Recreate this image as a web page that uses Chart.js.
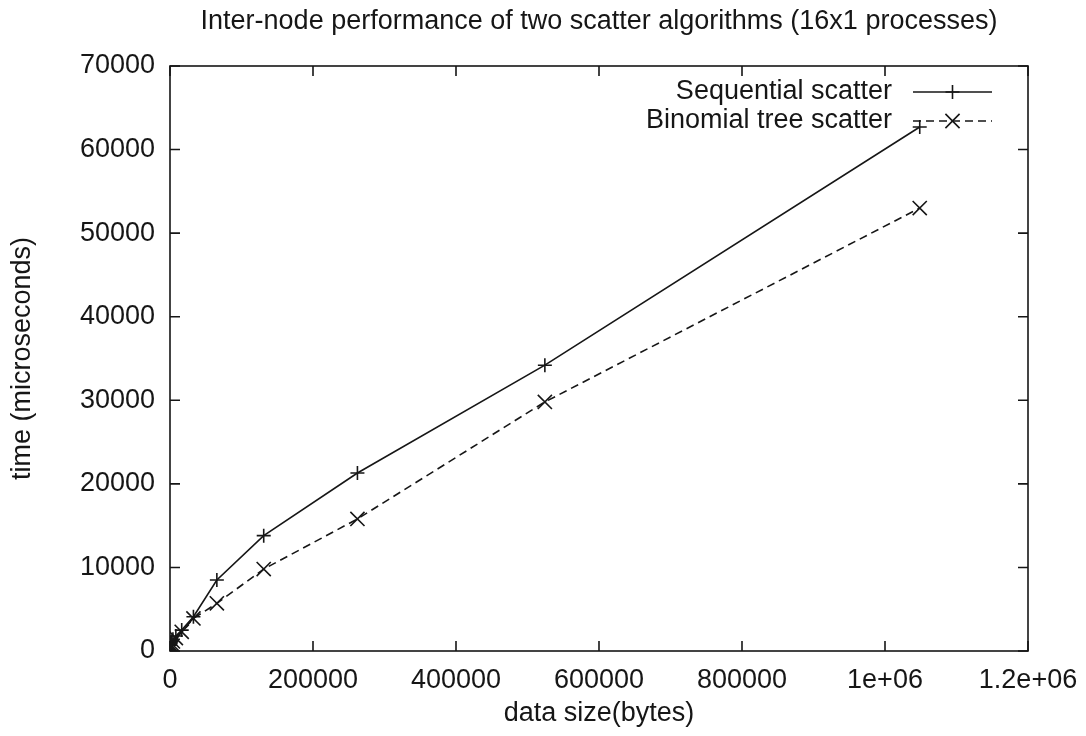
<!DOCTYPE html>
<html>
<head>
<meta charset="utf-8">
<script src="https://cdn.jsdelivr.net/npm/chart.js@4/dist/chart.umd.min.js"></script>
<style>
  html, body { margin: 0; padding: 0; background: #fff; }
  #wrap { width: 1086px; height: 736px; }
</style>
</head>
<body>
<div id="wrap"><canvas id="perfChart" width="1086" height="736"></canvas></div>
<script>
// data (bytes vs microseconds)
const dataSizes = [1, 2, 4, 8, 16, 32, 64, 128, 256, 512, 1024, 2048, 4096, 8192,
    16384, 32768, 65536, 131072, 262144, 524288, 1048576];
const sequentialTimes = [700, 690, 700, 710, 720, 740, 760, 800, 850, 900, 980, 1150, 1400, 1800,
    2500, 4100, 8500, 13800, 21300, 34200, 62700];
const binomialTimes = [350, 340, 350, 360, 370, 390, 420, 460, 520, 600, 720, 900, 1150, 1550,
    2300, 3900, 5700, 9800, 15800, 29800, 53000];
const xTicks = [0, 200000, 400000, 600000, 800000, 1000000, 1200000];
const yTicks = [0, 10000, 20000, 30000, 40000, 50000, 60000, 70000];
const seriesNames = ['Sequential scatter', 'Binomial tree scatter'];
const chartTitle = 'Inter-node performance of two scatter algorithms (16x1 processes)';

const ink = '#161616';
const fontFamily = '"Liberation Sans", Arial, Helvetica, sans-serif';
const fontSize = 27;

const toPoints = (xs, ys) => xs.map((x, i) => ({x: x, y: ys[i]}));

const xLabel = (v) => {
    if (v >= 1000000) {
        let s = (v / 1000000).toString();
        return `${s}e+06`;
    }
    return v.toString();
};

// gnuplot style frame with inward ticks on all four sides, title centred on the plot
const framePlugin = {
    id: 'frame',
    afterDraw(chart) {
        const {ctx, chartArea: a, scales} = chart;
        const len = 10;
        ctx.save();
        ctx.strokeStyle = ink;
        ctx.lineWidth = 1.6;
        ctx.strokeRect(a.left, a.top, a.right - a.left, a.bottom - a.top);
        ctx.beginPath();
        xTicks.forEach(v => {
            const px = scales.x.getPixelForValue(v);
            ctx.moveTo(px, a.bottom); ctx.lineTo(px, a.bottom - len);
            ctx.moveTo(px, a.top); ctx.lineTo(px, a.top + len);
        });
        yTicks.forEach(v => {
            const py = scales.y.getPixelForValue(v);
            ctx.moveTo(a.left, py); ctx.lineTo(a.left + len, py);
            ctx.moveTo(a.right, py); ctx.lineTo(a.right - len, py);
        });
        ctx.stroke();

        ctx.font = `${fontSize}px ${fontFamily}`;
        ctx.fillStyle = ink;
        ctx.textAlign = 'center';
        ctx.textBaseline = 'middle';
        ctx.fillText(chartTitle, (a.left + a.right) / 2, 22);
        ctx.restore();
    }
};

// key in the gnuplot way: text right aligned, then a line sample with its marker
const keyPlugin = {
    id: 'gnuKey',
    afterDraw(chart) {
        const {ctx} = chart;
        const textRight = 892, lineStart = 913, lineEnd = 992, rowY = [92, 121];
        ctx.save();
        ctx.font = `${fontSize}px ${fontFamily}`;
        ctx.fillStyle = ink;
        ctx.textAlign = 'right';
        ctx.textBaseline = 'middle';
        chart.data.datasets.forEach((ds, i) => {
            const y = rowY[i];
            ctx.fillText(ds.label, textRight, y);
            ctx.strokeStyle = ink;
            ctx.lineWidth = ds.borderWidth;
            ctx.setLineDash(ds.borderDash || []);
            ctx.beginPath();
            ctx.moveTo(lineStart, y);
            ctx.lineTo(lineEnd, y);
            ctx.stroke();
            ctx.setLineDash([]);
            Chart.helpers.drawPoint(ctx, {
                pointStyle: ds.pointStyle,
                radius: ds.pointRadius,
                rotation: 0,
                borderWidth: ds.pointBorderWidth
            }, (lineStart + lineEnd) / 2, y);
        });
        ctx.restore();
    }
};

const ctx = document.getElementById('perfChart').getContext('2d');
const perfChart = new Chart(ctx, {
    type: 'scatter',
    data: {
        datasets: [{
            label: seriesNames[0],
            data: toPoints(dataSizes, sequentialTimes),
            showLine: true,
            borderColor: ink,
            backgroundColor: ink,
            borderWidth: 1.6,
            pointStyle: 'cross',
            pointRadius: 7,
            pointBorderWidth: 1.6,
            pointBorderColor: ink
        }, {
            label: seriesNames[1],
            data: toPoints(dataSizes, binomialTimes),
            showLine: true,
            borderColor: ink,
            backgroundColor: ink,
            borderWidth: 1.6,
            borderDash: [8, 5],
            pointStyle: 'crossRot',
            pointRadius: 10,
            pointBorderWidth: 1.6,
            pointBorderColor: ink
        }]
    },
    options: {
        responsive: false,
        animation: false,
        devicePixelRatio: 1,
        layout: { padding: { left: 0, right: 58, top: 66, bottom: 0 } },
        plugins: {
            legend: { display: false },
            tooltip: { enabled: false },
            title: { display: false }
        },
        scales: {
            x: {
                type: 'linear',
                min: 0,
                max: 1200000,
                afterBuildTicks: (s) => { s.ticks = xTicks.map(v => ({value: v})); },
                afterFit: (s) => { s.height = 85; s.paddingLeft = 0; s.paddingRight = 0; },
                grid: { display: false, drawTicks: false },
                border: { display: false },
                ticks: {
                    color: ink,
                    padding: 13,
                    maxRotation: 0,
                    autoSkip: false,
                    font: { family: fontFamily, size: fontSize },
                    callback: (v) => xLabel(v)
                },
                title: {
                    display: true,
                    text: 'data size(bytes)',
                    color: ink,
                    font: { family: fontFamily, size: fontSize },
                    padding: { top: 0, bottom: 6 }
                }
            },
            y: {
                type: 'linear',
                min: 0,
                max: 70000,
                afterBuildTicks: (s) => { s.ticks = yTicks.map(v => ({value: v})); },
                afterFit: (s) => { s.width = 170; s.paddingTop = 0; s.paddingBottom = 0; },
                grid: { display: false, drawTicks: false },
                border: { display: false },
                ticks: {
                    color: ink,
                    padding: 15,
                    autoSkip: false,
                    font: { family: fontFamily, size: fontSize },
                    callback: (v) => v.toString()
                },
                title: {
                    display: true,
                    text: 'time (microseconds)',
                    color: ink,
                    font: { family: fontFamily, size: fontSize },
                    padding: { top: 6, bottom: 0 }
                }
            }
        }
    },
    plugins: [framePlugin, keyPlugin]
});
</script>
</body>
</html>
